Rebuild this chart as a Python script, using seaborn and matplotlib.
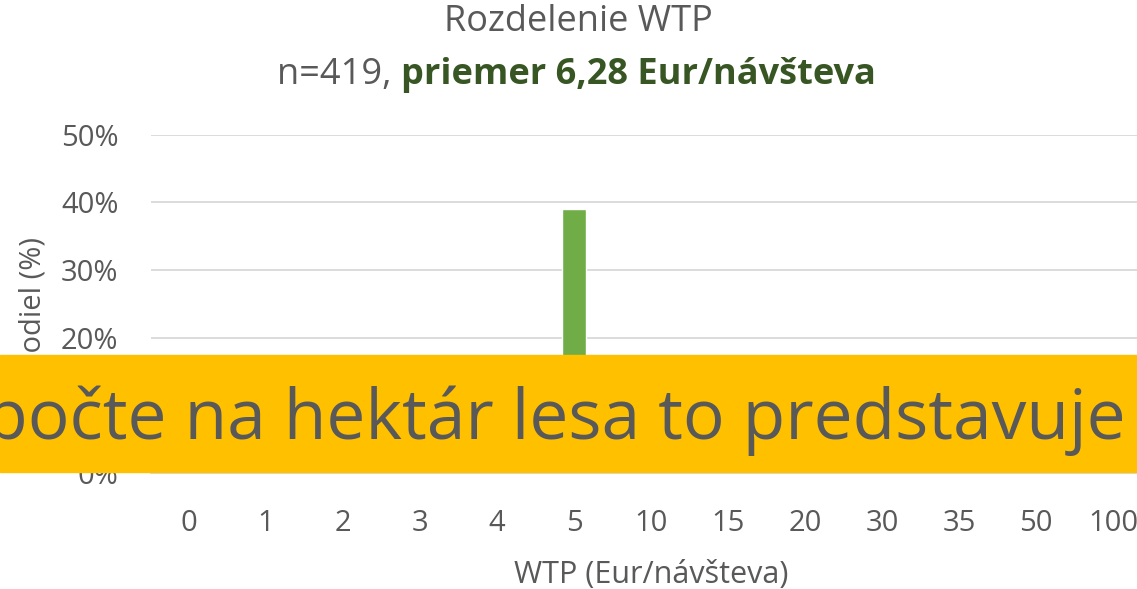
import matplotlib
matplotlib.use("Agg")
import matplotlib.pyplot as plt
import seaborn as sns
import pandas as pd
from matplotlib.patches import Rectangle
from matplotlib.ticker import PercentFormatter

# WTP categories (Eur/navsteva) and share of respondents
wtp = ["0", "1", "2", "3", "4", "5", "10", "15", "20", "30", "35", "50", "100"]
# only the 5 Eur bar is readable, the rest sits under the banner (estimates)
share = [0.08, 0.05, 0.10, 0.07, 0.01, 0.39, 0.16, 0.03, 0.06, 0.015, 0.005, 0.01, 0.005]

n_resp = 419
mean_wtp = "6,28"

grey = "#595959"
green = "#70AD47"
dark_green = "#375623"
banner_col = "#FFC000"

sns.set_theme(style="white")
plt.rcParams["font.family"] = ["Open Sans", "DejaVu Sans"]

df = pd.DataFrame({"WTP": wtp, "Podiel": share})

fig = plt.figure(figsize=(11.37, 5.89), dpi=100)
ax = fig.add_axes([0.1324, 0.197, 0.8804, 0.574])

sns.barplot(data=df, x="WTP", y="Podiel", order=wtp, color=green,
            width=0.31, saturation=1, ax=ax)

ax.set_ylim(0, 0.5)
ax.set_yticks([0, 0.1, 0.2, 0.3, 0.4, 0.5])
ax.yaxis.set_major_formatter(PercentFormatter(1.0, decimals=0))
ax.grid(axis="y", color="#D9D9D9", linewidth=1.3)
ax.set_axisbelow(True)
for s in ["top", "right", "left"]:
    ax.spines[s].set_visible(False)
ax.spines["bottom"].set_color("#D9D9D9")
ax.spines["bottom"].set_linewidth(1.3)
ax.tick_params(axis="both", colors=grey, labelsize=21, length=0)
ax.tick_params(axis="x", pad=26)
ax.tick_params(axis="y", pad=23)

ax.set_xlabel("WTP (Eur/návšteva)", color=grey, fontsize=22, labelpad=16)
ax.set_ylabel("Podiel (%)", color=grey, fontsize=21, labelpad=10)

# title in two lines, second part bold green
fig.text(0.509, 0.963, "Rozdelenie WTP", ha="center", va="center",
         fontsize=26, color=grey)
fig.text(0.353, 0.873, f"n={n_resp}, ", ha="right", va="center",
         fontsize=26, color=grey)
fig.text(0.353, 0.873, f"priemer {mean_wtp} Eur/návšteva", ha="left",
         va="center", fontsize=26, color=dark_green, fontweight="bold")

# overlaid banner
fig.patches.append(Rectangle((0, (589 - 472) / 589), 1, 117 / 589,
                             transform=fig.transFigure, color=banner_col,
                             zorder=5))
fig.text(1126 / 1137, 1 - 439 / 589, "Prepočte na hektár lesa to predstavuje",
         ha="right", va="baseline", fontsize=50, color=grey, zorder=6)

fig.savefig("out.png", dpi=100)
